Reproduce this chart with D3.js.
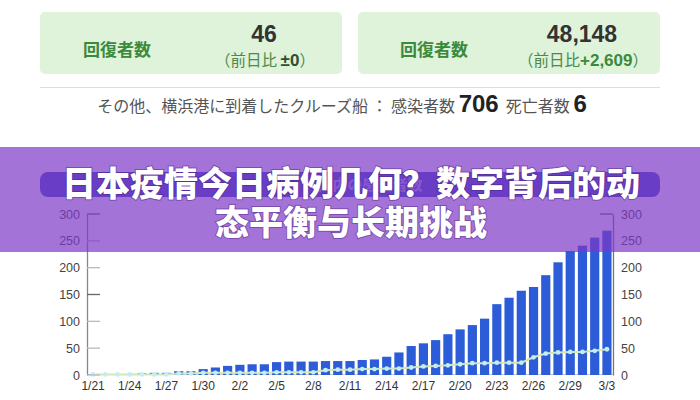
<!DOCTYPE html>
<html><head><meta charset="utf-8">
<script src="https://cdn.jsdelivr.net/npm/d3@7"></script>
<style>
html,body{margin:0;padding:0;background:#fff;}
svg{display:block;}
</style></head>
<body>
<svg id="c" width="700" height="400"></svg>
<script>
const dates = ["1/21","1/22","1/23","1/24","1/25","1/26","1/27","1/28","1/29","1/30","1/31",
"2/1","2/2","2/3","2/4","2/5","2/6","2/7","2/8","2/9","2/10",
"2/11","2/12","2/13","2/14","2/15","2/16","2/17","2/18","2/19","2/20",
"2/21","2/22","2/23","2/24","2/25","2/26","2/27","2/28","2/29",
"3/1","3/2","3/3"];
const barValues = [1,1,1,2,3,4,4,7,7,11,14,
17,19,20,20,24,25,25,25,26,26,
26,28,29,34,42,54,59,65,76,85,
93,105,132,144,157,164,186,210,231,
241,256,269];
const lineValues = [1,1,1,1,1,1,1,3,3,4,4,
4,4,4,4,5,5,5,5,9,10,
10,11,11,12,12,14,16,17,18,20,
22,22,23,23,23,33,40,42,43,
43,45,48];
const xTickLabels = ["1/21","1/24","1/27","1/30","2/2","2/5","2/8","2/11","2/14","2/17","2/20","2/23","2/26","2/29","3/3"];
const yTicks = [0,50,100,150,200,250,300];
const cards = [
  {label:"回復者数", value:"46", prefix:"（前日比 ", change:"±0", suffix:"）"},
  {label:"回復者数", value:"48,148", prefix:"（前日比", change:"+2,609", suffix:"）"}
];
const noteParts = ["その他、横浜港に到着したクルーズ船 ： 感染者数 ", "706", "  死亡者数 ", "6"];
const chartTitle = "国内の感染者数";
const bannerLines = ["日本疫情今日病例几何？数字背后的动", "态平衡与长期挑战"];

const svg = d3.select("#c");
const JP = "'Noto Sans CJK JP','Noto Sans',sans-serif";
const SANS = "'Liberation Sans',Arial,sans-serif";

// cards
const cardX = [40, 358];
cards.forEach((c,i)=>{
  const g = svg.append("g").attr("transform",`translate(${cardX[i]},12)`);
  g.append("rect").attr("width",302).attr("height",62).attr("rx",5).attr("fill","#dff2da");
  g.append("text").attr("x",i===0?43:42).attr("y",44).attr("font-family",JP).attr("font-weight",700)
    .attr("font-size",17).attr("fill","#3b8a3b").text(c.label);
  g.append("text").attr("x",224).attr("y",30).attr("text-anchor","middle").attr("font-family",SANS)
    .attr("font-weight",700).attr("font-size",23).attr("fill","#333").text(c.value);
  const t = g.append("text").attr("x",225).attr("y",54).attr("text-anchor","middle").attr("font-size",15.5);
  t.append("tspan").attr("font-family",JP).attr("fill","#4a8a4a").text(c.prefix);
  t.append("tspan").attr("font-family",SANS).attr("font-weight",700).attr("font-size",17)
    .attr("fill", i===0?"#2f4f2f":"#3a8a3a").text(c.change);
  t.append("tspan").attr("font-family",JP).attr("fill","#4a8a4a").text(c.suffix);
});

svg.append("line").attr("x1",40).attr("x2",660).attr("y1",87.5).attr("y2",87.5).attr("stroke","#ddd");

const note = svg.append("text").attr("x",342).attr("y",112).attr("text-anchor","middle").attr("font-family",JP);
noteParts.forEach((p,i)=>{
  const bold = i%2===1;
  note.append("tspan").attr("font-family", bold?SANS:JP).attr("font-weight",bold?700:400)
    .attr("font-size",bold?24:16).attr("fill",bold?"#222":"#555").attr("xml:space","preserve").text(p);
});

// chart title pill
svg.append("rect").attr("x",40).attr("y",172).attr("width",620).attr("height",25).attr("rx",8).attr("fill","#3a4cc0");
svg.append("text").attr("x",370).attr("y",190).attr("text-anchor","middle").attr("font-family",JP)
  .attr("font-weight",700).attr("font-size",15).attr("fill","#fff").attr("fill-opacity",0.55).text(chartTitle);

// chart
const x = d3.scaleBand().domain(dates).range([87,613]).paddingInner(0.25).paddingOuter(0.12);
const y = d3.scaleLinear().domain([0,300]).range([375,214]);

svg.append("line").attr("x1",87).attr("x2",613).attr("y1",374.5).attr("y2",374.5).attr("stroke","#ccc");

svg.append("g").selectAll("rect").data(barValues).join("rect")
  .attr("x",(d,i)=>x(dates[i])).attr("width",x.bandwidth())
  .attr("y",d=>y(d)).attr("height",d=>y(0)-y(d)).attr("fill","#2c5cd8");

const lineGen = d3.line().x((d,i)=>x(dates[i])+x.bandwidth()/2).y(d=>y(d));
svg.append("path").datum(lineValues).attr("d",lineGen).attr("fill","none")
  .attr("stroke","#cfe9b4").attr("stroke-width",2);
svg.append("g").selectAll("circle").data(lineValues).join("circle")
  .attr("cx",(d,i)=>x(dates[i])+x.bandwidth()/2).attr("cy",d=>y(d)).attr("r",2.4).attr("fill","#c4ecf5");

// left axis
const la = svg.append("g").attr("transform","translate(87,0)")
  .call(d3.axisLeft(y).tickValues(yTicks).tickSize(0).tickPadding(7));
la.select(".domain").attr("stroke","#888").attr("stroke-width",1.3);
la.selectAll("text").attr("font-family",SANS).attr("font-size",12.5).attr("fill","#444");
svg.append("g").selectAll("line").data(yTicks).join("line")
  .attr("x1",87).attr("x2",100).attr("y1",d=>y(d)).attr("y2",d=>y(d))
  .attr("stroke",d=>(d===300||d===150)?"#666":"#bbb").attr("stroke-width",1.3);

// right axis
const ra = svg.append("g").attr("transform","translate(613,0)")
  .call(d3.axisRight(y).tickValues(yTicks).tickSize(0).tickPadding(8));
ra.select(".domain").attr("stroke","#777").attr("stroke-width",1.3);
ra.selectAll("text").attr("font-family",SANS).attr("font-size",12.5).attr("fill","#444");
svg.append("line").attr("x1",600).attr("x2",613).attr("y1",y(300)).attr("y2",y(300)).attr("stroke","#666").attr("stroke-width",1.3);

// x axis labels
svg.append("g").selectAll("text").data(xTickLabels).join("text")
  .attr("x",d=>x(d)+x.bandwidth()/2).attr("y",390).attr("text-anchor","middle")
  .attr("font-family",SANS).attr("font-size",12).attr("fill","#333").text(d=>d);

// banner overlay
svg.append("rect").attr("x",0).attr("y",147).attr("width",700).attr("height",105)
  .attr("fill","rgb(125,55,200)").attr("fill-opacity",0.7);
bannerLines.forEach((t,i)=>{
  svg.append("text").attr("x",351).attr("y",[196,235][i]).attr("text-anchor","middle")
    .attr("font-family","'Noto Sans CJK SC',sans-serif").attr("font-weight",900).attr("font-size",34)
    .attr("fill","#fff").attr("stroke","rgba(70,30,120,0.45)").attr("stroke-width",2)
    .attr("paint-order","stroke").text(t);
});
</script>
</body></html>
